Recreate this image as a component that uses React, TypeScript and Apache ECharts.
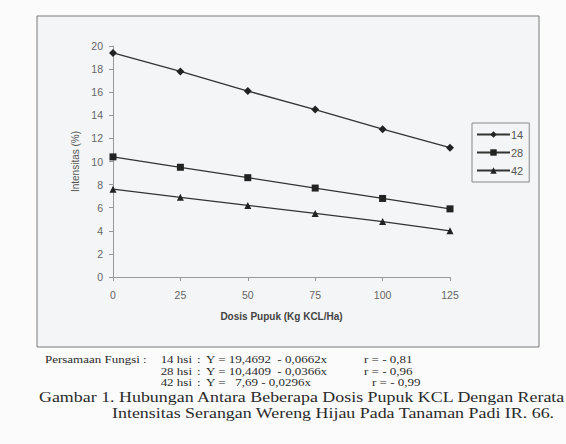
import React, { useEffect, useRef } from "react";
import * as echarts from "echarts";

const doses = [0, 25, 50, 75, 100, 125];
const seriesNames = ["14", "28", "42"];
const values14 = [19.4, 17.8, 16.1, 14.5, 12.8, 11.2];
const values28 = [10.4, 9.5, 8.6, 7.7, 6.8, 5.9];
const values42 = [7.6, 6.9, 6.2, 5.5, 4.8, 4.0];
const markers = ["diamond", "rect", "triangle"];
const yTicks = { min: 0, max: 20, interval: 2 };
const xTicks = { min: 0, max: 125, interval: 25 };

const eqLabel = "Persamaan Fungsi :";
const eqHsi = ["14 hsi", "28 hsi", "42 hsi"];
const eqY = ["Y = 19,4692  - 0,0662x", "Y = 10,4409  - 0,0366x", "Y =   7,69 - 0,0296x"];
const eqR = ["r = - 0,81", "r = - 0,96", "r = - 0,99"];
const captionLine1 = "Gambar 1. Hubungan Antara Beberapa Dosis Pupuk KCL Dengan Rerata";
const captionLine2 = "Intensitas Serangan Wereng Hijau Pada Tanaman Padi IR. 66.";

export default function App() {
  const ref = useRef<HTMLDivElement>(null);
  useEffect(() => {
    if (!ref.current) return;
    const chart = echarts.init(ref.current, null, { renderer: "svg" });
    const allValues = [values14, values28, values42];
    const serif = "'Liberation Serif', 'Times New Roman', serif";
    const sans = "'Liberation Sans', Arial, sans-serif";
    const eqColor = "#2a2a2a";
    const eqFont = `10px ${serif}`;
    const eqScale = 1.3;
    const capFont = `14px ${serif}`;
    const capScale = 1.28;
    const graphics: any[] = [
      {
        type: "rect",
        z: -10,
        shape: { x: 37, y: 16, width: 502, height: 331 },
        style: { fill: "#f4f5f6", stroke: "#7a7a7a", lineWidth: 1 },
      },
      {
        type: "text", x: 45, y: 360, scaleX: eqScale,
        style: { text: eqLabel, font: eqFont, fill: eqColor, verticalAlign: "middle" },
      },
    ];
    const lineY = [360, 371.5, 383];
    eqHsi.forEach((t, i) => {
      graphics.push({
        type: "text", x: 192, y: lineY[i], scaleX: eqScale,
        style: { text: t, font: eqFont, fill: eqColor, align: "right", verticalAlign: "middle" },
      });
      graphics.push({
        type: "text", x: 197, y: lineY[i], scaleX: eqScale,
        style: { text: ":", font: eqFont, fill: eqColor, verticalAlign: "middle" },
      });
      graphics.push({
        type: "text", x: 206, y: lineY[i], scaleX: eqScale,
        style: { text: eqY[i], font: eqFont, fill: eqColor, verticalAlign: "middle" },
      });
      graphics.push({
        type: "text", x: i === 2 ? 372 : 364, y: lineY[i], scaleX: eqScale,
        style: { text: eqR[i], font: eqFont, fill: eqColor, verticalAlign: "middle" },
      });
    });
    graphics.push({
      type: "text", x: 39, y: 397, scaleX: capScale,
      style: { text: captionLine1, font: capFont, fill: eqColor, verticalAlign: "middle" },
    });
    graphics.push({
      type: "text", x: 112, y: 413, scaleX: capScale,
      style: { text: captionLine2, font: capFont, fill: eqColor, verticalAlign: "middle" },
    });

    chart.setOption({
      animation: false,
      backgroundColor: "#fbfbfb",
      textStyle: { fontFamily: sans },
      grid: { left: 113, top: 46, width: 337, height: 231, containLabel: false },
      legend: {
        orient: "vertical",
        left: 472,
        top: 123,
        itemWidth: 33,
        itemHeight: 8,
        itemGap: 7,
        padding: [6, 6, 6, 4],
        borderColor: "#888",
        borderWidth: 1,
        backgroundColor: "#f4f5f6",
        textStyle: { color: "#555", fontSize: 11, fontFamily: sans, padding: [0, 0, 0, -4] },
        data: seriesNames,
      },
      xAxis: {
        type: "value",
        min: xTicks.min,
        max: xTicks.max,
        interval: xTicks.interval,
        name: "Dosis Pupuk (Kg KCL/Ha)",
        nameLocation: "middle",
        nameGap: 34,
        nameTextStyle: { color: "#444", fontSize: 10, fontWeight: "bold", fontFamily: sans },
        axisLine: { lineStyle: { color: "#999", width: 1 } },
        axisTick: { show: true, length: 4, lineStyle: { color: "#999" } },
        axisLabel: { color: "#666", fontSize: 10.5, margin: 12 },
        splitLine: { show: false },
      },
      yAxis: {
        type: "value",
        min: yTicks.min,
        max: yTicks.max,
        interval: yTicks.interval,
        name: "Intensitas (%)",
        nameLocation: "middle",
        nameGap: 32,
        nameTextStyle: { color: "#555", fontSize: 10, fontFamily: sans },
        axisLine: { show: true, lineStyle: { color: "#999", width: 1 } },
        axisTick: { show: true, length: 4, lineStyle: { color: "#999" } },
        axisLabel: { color: "#666", fontSize: 10.5, margin: 10 },
        splitLine: { show: false },
      },
      graphic: graphics,
      series: seriesNames.map((name, i) => ({
        name,
        type: "line",
        data: doses.map((d, j) => [d, allValues[i][j]]),
        symbol: markers[i],
        symbolSize: i === 0 ? 8 : 7,
        lineStyle: { color: "#333", width: 1.3 },
        itemStyle: { color: "#222" },
      })),
    });
    return () => chart.dispose();
  }, []);
  return (
    <div
      ref={ref}
      style={{ position: "absolute", left: 0, top: 0, width: 566, height: 444 }}
    />
  );
}
